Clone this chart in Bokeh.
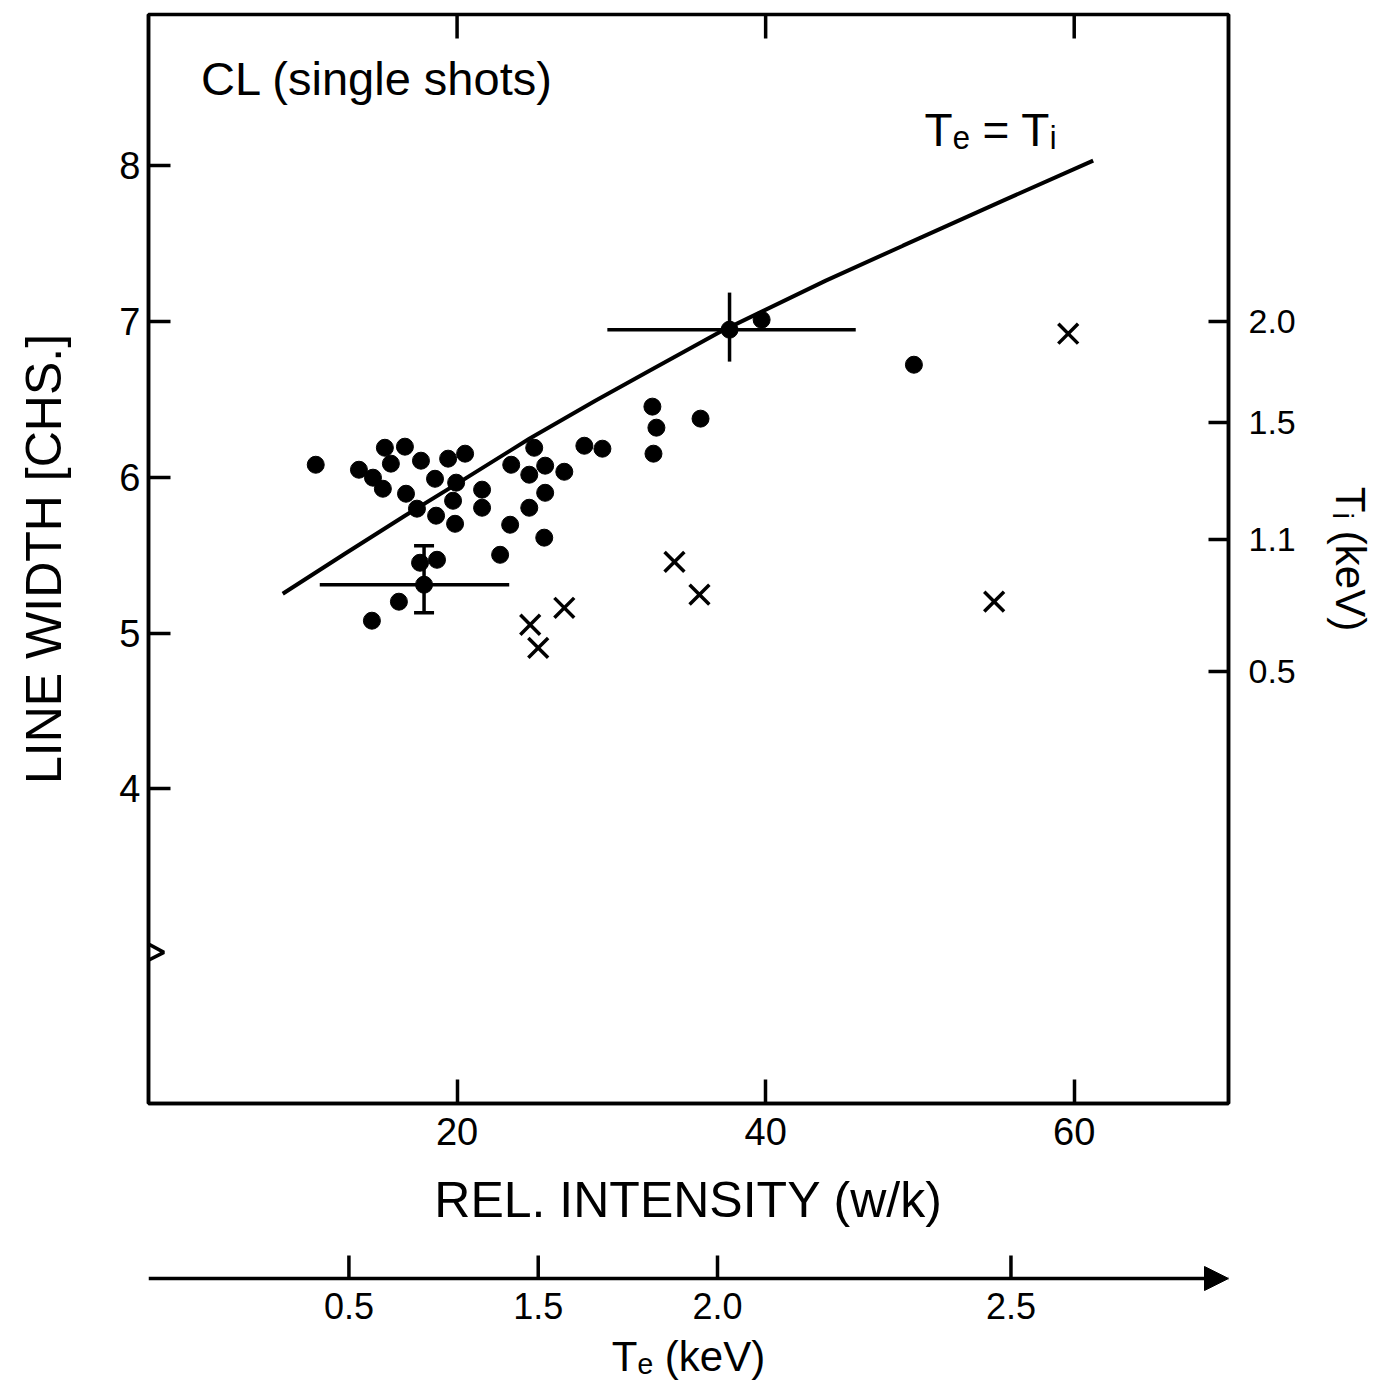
from bokeh.plotting import figure
from bokeh.models import LinearAxis, FixedTicker, Range1d, Label, Arrow, NormalHead
from bokeh.layouts import column
from bokeh.embed import file_html
from bokeh.resources import INLINE

FONT = "Liberation Sans"

# ---- data ----
dot_x = [10.84, 13.64, 14.55, 15.19, 15.32, 15.71, 16.62, 16.69, 17.40, 17.66,
         18.57, 18.64, 19.42, 19.74, 19.94, 19.87, 20.52, 21.62, 21.62, 22.79,
         23.51, 23.44, 24.68, 24.68, 25.00, 25.71, 25.71, 25.65, 26.95, 28.25,
         29.42, 32.66, 32.92, 32.73, 35.78, 39.74, 49.61, 14.48, 16.23, 17.60,
         18.70]
dot_y = [6.080, 6.048, 5.997, 5.926, 6.189, 6.087, 6.196, 5.894, 5.798, 6.106,
         5.990, 5.753, 6.119, 5.849, 5.965, 5.701, 6.151, 5.920, 5.804, 5.502,
         6.080, 5.695, 6.016, 5.804, 6.189, 6.074, 5.900, 5.612, 6.035, 6.202,
         6.183, 6.453, 6.318, 6.151, 6.376, 7.011, 6.722, 5.079, 5.201, 5.451,
         5.470]

cross_x = [24.74, 25.26, 26.95, 34.09, 35.71, 54.81, 59.61]
cross_y = [5.053, 4.905, 5.162, 5.457, 5.246, 5.201, 6.921]

err_x = [17.86, 37.66]
err_y = [5.310, 6.947]
err_xlo = [11.10, 29.74]
err_xhi = [23.38, 45.84]
err_ylo = [5.13, 6.742]
err_yhi = [5.56, 7.185]

curve_x = [8.70, 12.73, 16.62, 20.32, 24.68, 28.96, 32.47, 37.21, 43.90, 48.90, 55.39, 61.23]
curve_y = [5.252, 5.509, 5.753, 5.978, 6.247, 6.491, 6.684, 6.941, 7.262, 7.486, 7.775, 8.032]

x_ticks = [20, 40, 60]
y_ticks = [4, 5, 6, 7, 8]
ti_pos = [7.0, 6.35, 5.6, 4.75]
ti_labels = ["2.0", "1.5", "1.1", "0.5"]
te_pos = [12.99, 25.26, 36.88, 55.9]
te_labels = ["0.5", "1.5", "2.0", "2.5"]

break_x = [0.0, -0.5, 1.0, 0.0]
break_y = [3.09, 3.03, 2.95, 2.90]

LW = 3.5
X0, X1 = 0, 70
Y0, Y1 = 1.98, 8.97
FW, FH = 1080, 1089

p = figure(frame_width=FW, frame_height=FH,
           x_range=Range1d(X0, X1), y_range=Range1d(Y0, Y1),
           x_axis_type=None, y_axis_type=None,
           output_backend="svg", toolbar_location=None,
           min_border_left=148, min_border_right=146,
           min_border_top=14, min_border_bottom=141,
           background_fill_color="white", border_fill_color="white")
p.outline_line_color = "black"
p.outline_line_width = LW


def style(ax, label_size):
    ax.axis_line_width = LW
    ax.axis_line_color = "black"
    ax.major_tick_line_width = LW
    ax.major_tick_line_color = "black"
    ax.major_tick_out = 0
    ax.minor_tick_line_color = None
    ax.major_label_text_font = FONT
    ax.major_label_text_font_size = label_size
    ax.major_label_text_color = "black"
    ax.axis_label_text_font = FONT
    ax.axis_label_text_font_style = "normal"
    ax.axis_label_text_color = "black"


left = LinearAxis(ticker=FixedTicker(ticks=y_ticks), axis_label="LINE WIDTH [CHS.]")
style(left, "38px")
left.major_tick_in = 22
left.major_label_standoff = 8
left.axis_label_text_font_size = "50px"
left.axis_label_standoff = 44
p.add_layout(left, "left")

right = LinearAxis(ticker=FixedTicker(ticks=ti_pos), axis_label="Tᵢ (keV)",
                   major_label_overrides={k: v for k, v in zip(ti_pos, ti_labels)})
style(right, "34px")
right.major_tick_in = 20
right.major_label_standoff = 20
right.axis_label_text_font_size = "42px"
right.axis_label_standoff = 28
right.axis_label_text_align = "right"
p.add_layout(right, "right")

bottom = LinearAxis(ticker=FixedTicker(ticks=x_ticks), axis_label="REL. INTENSITY (w/k)")
style(bottom, "38px")
bottom.major_tick_in = 24
bottom.major_label_standoff = 14
bottom.axis_label_text_font_size = "50px"
bottom.axis_label_standoff = 24
p.add_layout(bottom, "below")

# inward ticks along the top edge (same positions as the bottom axis)
top_len = 24 * (Y1 - Y0) / FH
p.segment(x0=x_ticks, y0=[Y1] * len(x_ticks), x1=x_ticks, y1=[Y1 - top_len] * len(x_ticks),
          line_width=LW, line_color="black")

# marks
p.line(curve_x, curve_y, line_width=4, line_color="black")
p.segment(x0=err_xlo, y0=err_y, x1=err_xhi, y1=err_y, line_width=LW, line_color="black")
p.segment(x0=err_x, y0=err_ylo, x1=err_x, y1=err_yhi, line_width=LW, line_color="black")
p.scatter(x=[err_x[0], err_x[0]], y=[err_ylo[0], err_yhi[0]], marker="dash",
          size=20, line_width=LW, line_color="black")
p.scatter(x=dot_x + err_x, y=dot_y + err_y, size=17, fill_color="black", line_color="black")
p.scatter(x=cross_x, y=cross_y, marker="x", size=28, line_width=LW, line_color="black")
p.line(break_x, break_y, line_width=LW, line_color="black")

p.add_layout(Label(x=3.4, y=8.56, text="CL (single shots)", text_font=FONT,
                   text_font_size="47px", text_color="black", text_baseline="alphabetic"))
p.add_layout(Label(x=50.3, y=8.23, text="Tₑ = Tᵢ", text_font=FONT,
                   text_font_size="46px", text_color="black", text_baseline="alphabetic"))

# second (Te) scale below: arrow line drawn in a thin frame, labels from an axis
P2Y0, P2Y1 = -14, 34
p2 = figure(frame_width=FW, frame_height=48,
            x_range=p.x_range, y_range=Range1d(P2Y0, P2Y1),
            x_axis_type=None, y_axis_type=None,
            output_backend="svg", toolbar_location=None,
            min_border_left=148, min_border_right=146,
            min_border_top=0, min_border_bottom=90,
            background_fill_color="white", border_fill_color="white")
p2.outline_line_color = None

te_axis = LinearAxis(ticker=FixedTicker(ticks=te_pos), axis_label="Tₑ (keV)",
                     major_label_overrides={k: v for k, v in zip(te_pos, te_labels)})
style(te_axis, "36px")
te_axis.axis_line_color = None
te_axis.major_tick_line_color = None
te_axis.major_tick_in = 0
te_axis.major_label_standoff = 0
te_axis.axis_label_text_font_size = "42px"
te_axis.axis_label_standoff = 11
p2.add_layout(te_axis, "below")

p2.segment(x0=te_pos, y0=[0] * len(te_pos), x1=te_pos, y1=[23] * len(te_pos),
           line_width=LW, line_color="black")
p2.add_layout(Arrow(end=NormalHead(size=24, fill_color="black", line_color="black"),
                    x_start=X0, y_start=0, x_end=X1, y_end=0,
                    line_width=LW, line_color="black"))

layout = column(p, p2, spacing=0)
open("out.html", "w").write(file_html(layout, INLINE))
